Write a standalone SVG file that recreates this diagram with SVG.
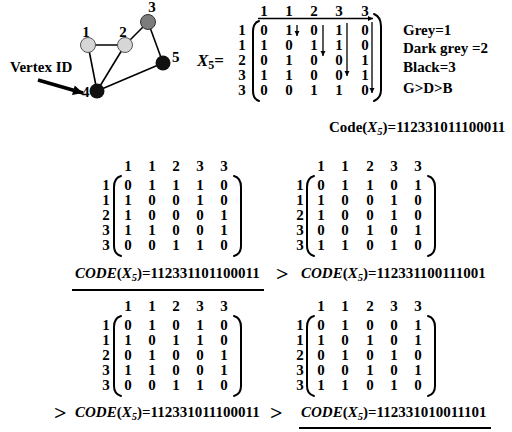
<svg xmlns="http://www.w3.org/2000/svg" width="512" height="432" viewBox="0 0 512 432">
  <defs>
    <style>
      .t { font-family: "Liberation Serif", "Times New Roman", serif; font-weight: bold; font-size: 15px; fill: #000; }
      .c { text-anchor: middle; }
      .it { font-style: italic; }
      .sub { font-size: 10.5px; font-style: italic; }
      .gt { font-family: "Liberation Serif", serif; font-weight: bold; font-size: 22px; fill: #000; }
      .par { fill: none; stroke: #000; stroke-width: 2; stroke-linecap: round; }
      .edge { stroke: #000; stroke-width: 1.6; fill: none; }
      .arr { stroke: #000; stroke-width: 1.3; fill: none; marker-end: url(#tip); }
      .ul { stroke: #000; stroke-width: 2; }
    </style>
    <marker id="tip" viewBox="0 0 10 10" refX="10" refY="5" markerWidth="5" markerHeight="6" markerUnits="userSpaceOnUse" orient="auto">
      <path d="M0,0 L10,5 L0,10 z" fill="#000"/>
    </marker>
    <marker id="bigtip" viewBox="0 0 10 10" refX="10" refY="5" markerWidth="11" markerHeight="10" markerUnits="userSpaceOnUse" orient="auto">
      <path d="M0,0 L10,5 L0,10 z" fill="#000"/>
    </marker>
  </defs>
  <rect width="512" height="432" fill="#fff"/>

  <!-- graph edges -->
  <g id="edges">
    <line class="edge" x1="88" y1="45" x2="125" y2="45"/>
    <line class="edge" x1="88" y1="45" x2="97" y2="91"/>
    <line class="edge" x1="125" y1="45" x2="97" y2="91"/>
    <line class="edge" x1="125" y1="45" x2="148" y2="22"/>
    <line class="edge" x1="148" y1="22" x2="163" y2="63"/>
    <line class="edge" x1="163" y1="63" x2="97" y2="91"/>
  </g>

  <!-- graph vertices -->
  <g id="v1"><circle cx="88" cy="45" r="7.5" fill="#d6d6d6" stroke="#555" stroke-width="1"/><text class="t c" x="86" y="37">1</text></g>
  <g id="v2"><circle cx="125" cy="45" r="7.5" fill="#d6d6d6" stroke="#555" stroke-width="1"/><text class="t c" x="123" y="37">2</text></g>
  <g id="v3"><circle cx="148" cy="22" r="7.5" fill="#7c7c7c" stroke="#333" stroke-width="1"/><text class="t c" x="152" y="12">3</text></g>
  <g id="v5"><circle cx="163" cy="63" r="7.5" fill="#111"/><text class="t" x="172" y="62">5</text></g>
  <g id="v4"><circle cx="97" cy="91" r="7.5" fill="#111"/><text class="t" x="82" y="97">4</text></g>

  <!-- vertex id callout -->
  <g id="vertex-id">
    <text class="t" x="10" y="72">Vertex ID</text>
    <line x1="38" y1="80" x2="83" y2="93" stroke="#000" stroke-width="3.5" marker-end="url(#bigtip)"/>
  </g>

  <!-- adjacency matrix X5 with scan arrows -->
  <g id="matrix-x5">
    <text class="t" x="197" y="66" style="font-size:17px"><tspan class="it">X</tspan><tspan style="font-size:12px" dy="3">5</tspan><tspan dy="-3">=</tspan></text>
    <text class="t c" x="264 289 314 339 365" y="16">11233</text>
    <text class="t c" x="242" y="35">1</text>
    <text class="t c" x="242" y="50">1</text>
    <text class="t c" x="242" y="65">2</text>
    <text class="t c" x="242" y="80">3</text>
    <text class="t c" x="242" y="95">3</text>
    <text class="t c" x="264 289 314 339 365" y="35">01010</text>
    <text class="t c" x="264 289 314 339 365" y="50">10110</text>
    <text class="t c" x="264 289 314 339 365" y="65">01001</text>
    <text class="t c" x="264 289 314 339 365" y="80">11001</text>
    <text class="t c" x="264 289 314 339 365" y="95">00110</text>
    <path class="par" d="M259 21 Q253 23 253 31 L253 91 Q253 99 259 101"/>
    <path class="par" d="M374 14 Q381 17 381 26 L381 90 Q381 98 374 101"/>
    <line class="arr" x1="258" y1="18.5" x2="373" y2="18.5"/>
    <line class="arr" x1="297" y1="25" x2="297" y2="36"/>
    <line class="arr" x1="323" y1="25" x2="323" y2="56"/>
    <line class="arr" x1="347" y1="23" x2="347" y2="76"/>
    <line class="arr" x1="372" y1="22" x2="372" y2="93"/>
  </g>

  <!-- colour legend and code -->
  <g id="legend">
    <text class="t" x="403" y="35">Grey=1</text>
    <text class="t" x="403" y="53">Dark grey =2</text>
    <text class="t" x="403" y="72">Black=3</text>
    <text class="t" x="403" y="93">G&gt;D&gt;B</text>
    <text class="t" x="329" y="132">Code(<tspan class="it">X</tspan><tspan class="sub" dy="3">5</tspan><tspan dy="-3">)=112331011100011</tspan></text>
  </g>

  <!-- candidate matrix A -->
  <g id="matrix-a">
    <text class="t c" x="128 152 176 200 224" y="171">11233</text>
    <text class="t c" x="106 128 152 176 200 224" y="190">101110</text>
    <text class="t c" x="106 128 152 176 200 224" y="205">110010</text>
    <text class="t c" x="106 128 152 176 200 224" y="220">210001</text>
    <text class="t c" x="106 128 152 176 200 224" y="235">311001</text>
    <text class="t c" x="106 128 152 176 200 224" y="250">300110</text>
    <path class="par" d="M121 176 Q114 178 114 187 L114 246 Q114 254 121 256"/>
    <path class="par" d="M234 176 Q241 178 241 187 L241 246 Q241 254 234 256"/>
    <text class="t" x="75" y="278"><tspan class="it">CODE</tspan>(<tspan class="it">X</tspan><tspan class="sub" dy="3">5</tspan><tspan dy="-3">)=112331101100011</tspan></text>
    <line class="ul" x1="72" y1="290" x2="264" y2="290"/>
  </g>

  <!-- candidate matrix B -->
  <g id="matrix-b">
    <text class="t c" x="321 345 370 394 418" y="171">11233</text>
    <text class="t c" x="300 321 345 370 394 418" y="190">101101</text>
    <text class="t c" x="300 321 345 370 394 418" y="205">110010</text>
    <text class="t c" x="300 321 345 370 394 418" y="220">210010</text>
    <text class="t c" x="300 321 345 370 394 418" y="235">300101</text>
    <text class="t c" x="300 321 345 370 394 418" y="250">311010</text>
    <path class="par" d="M314 176 Q307 178 307 187 L307 246 Q307 254 314 256"/>
    <path class="par" d="M428 176 Q435 178 435 187 L435 246 Q435 254 428 256"/>
    <text class="gt" x="276" y="281">&gt;</text>
    <text class="t" x="301" y="278"><tspan class="it">CODE</tspan>(<tspan class="it">X</tspan><tspan class="sub" dy="3">5</tspan><tspan dy="-3">)=112331100111001</tspan></text>
  </g>

  <!-- candidate matrix C -->
  <g id="matrix-c">
    <text class="t c" x="128 152 176 200 224" y="311">11233</text>
    <text class="t c" x="106 128 152 176 200 224" y="330">101010</text>
    <text class="t c" x="106 128 152 176 200 224" y="345">110110</text>
    <text class="t c" x="106 128 152 176 200 224" y="360">201001</text>
    <text class="t c" x="106 128 152 176 200 224" y="375">311001</text>
    <text class="t c" x="106 128 152 176 200 224" y="390">300110</text>
    <path class="par" d="M121 316 Q114 318 114 327 L114 386 Q114 394 121 396"/>
    <path class="par" d="M234 316 Q241 318 241 327 L241 386 Q241 394 234 396"/>
    <text class="gt" x="54" y="420">&gt;</text>
    <text class="t" x="75" y="417"><tspan class="it">CODE</tspan>(<tspan class="it">X</tspan><tspan class="sub" dy="3">5</tspan><tspan dy="-3">)=112331011100011</tspan></text>
  </g>

  <!-- candidate matrix D -->
  <g id="matrix-d">
    <text class="t c" x="321 345 370 394 418" y="311">11233</text>
    <text class="t c" x="300 321 345 370 394 418" y="330">101001</text>
    <text class="t c" x="300 321 345 370 394 418" y="345">110101</text>
    <text class="t c" x="300 321 345 370 394 418" y="360">201010</text>
    <text class="t c" x="300 321 345 370 394 418" y="375">300101</text>
    <text class="t c" x="300 321 345 370 394 418" y="390">311010</text>
    <path class="par" d="M314 316 Q307 318 307 327 L307 386 Q307 394 314 396"/>
    <path class="par" d="M428 316 Q435 318 435 327 L435 386 Q435 394 428 396"/>
    <text class="gt" x="270" y="420">&gt;</text>
    <text class="t" x="301" y="417"><tspan class="it">CODE</tspan>(<tspan class="it">X</tspan><tspan class="sub" dy="3">5</tspan><tspan dy="-3">)=112331010011101</tspan></text>
    <line class="ul" x1="299" y1="428" x2="491" y2="428"/>
  </g>
</svg>
